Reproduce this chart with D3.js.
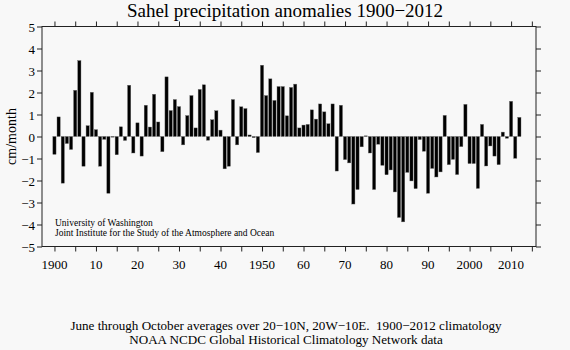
<!DOCTYPE html>
<html><head><meta charset="utf-8">
<script src="https://cdn.jsdelivr.net/npm/d3@7"></script>
<style>
html,body{margin:0;padding:0;background:#f8f8f8;}
svg{display:block;}
text{font-family:"Liberation Serif","Times New Roman",serif;fill:#000;white-space:pre;}
</style></head>
<body>
<svg id="c" width="570" height="350"></svg>
<script>
const years = d3.range(1900, 2013);
const values = [
 -0.81, 0.89,-2.12,-0.32,-0.59, 2.10, 3.45,-1.35, 0.49, 2.01,
  0.31,-1.35,-0.13,-2.58,-0.03,-0.83, 0.44,-0.18, 2.33,-0.75,
  0.62,-0.89, 1.42, 0.43, 1.92, 0.66,-0.69, 2.71, 1.18, 1.68,
  1.36,-0.38, 0.95, 1.86, 0.39, 2.14, 2.35,-0.17, 0.76, 1.17,
  0.29,-1.47,-1.35, 1.68,-0.38, 1.35, 1.27, 0.07,-0.05,-0.73,
  3.24, 1.86, 2.62, 1.64, 2.27, 2.27, 0.94, 2.23, 2.38, 0.39,
  0.52, 0.55, 1.21, 0.79, 1.48, 1.12, 0.58, 1.48,-1.57, 1.42,
 -1.05,-1.20,-3.07,-2.41,-0.47, 0.03,-0.75,-2.41,-0.35,-1.31,
 -1.74,-1.52,-2.52,-3.68,-3.88,-1.63,-2.02,-2.37,-0.14,-0.67,
 -2.58,-1.45,-1.84,-1.61, 0.96,-1.28,-1.04,-1.73,-0.46, 1.46,
 -1.23,-1.23,-2.36, 0.55,-1.34,-0.43,-0.89,-1.28, 0.20,-0.08,
  1.60,-0.99, 0.87
];
const xTicks = d3.range(1900, 2016, 5);
const xLabelYears = [1900,1910,1920,1930,1940,1950,1960,1970,1980,1990,2000,2010];
const xLabelText = ["1900","10","20","30","40","1950","60","70","80","90","2000","2010"];
const yTicks = d3.range(-5, 6, 1);
const title = "Sahel precipitation anomalies 1900\u22122012";
const yTitle = "cm/month";
const credit = ["University of Washington","Joint Institute for the Study of the Atmosphere and Ocean"];
const footer = ["June through October averages over 20\u221210N, 20W\u221210E.  1900\u22122012 climatology",
                "NOAA NCDC Global Historical Climatology Network data"];

const svg = d3.select("#c");
const L = 42, R = 536, T = 26.5, B = 246.5;
const x = d3.scaleLinear().domain([1897, 2016]).range([L, R]);
const y = d3.scaleLinear().domain([-5, 5]).range([B, T]);
const bw = 3.2;

svg.append("g").selectAll("rect").data(years).join("rect")
  .attr("x", (d) => x(d) - bw/2)
  .attr("width", bw)
  .attr("y", (d,i) => Math.min(y(values[i]), y(0)))
  .attr("height", (d,i) => Math.max(0.6, Math.abs(y(values[i]) - y(0))))
  .attr("fill", "#000")
  .attr("stroke", "#666").attr("stroke-width", 0.4);

const axStyle = g => { g.selectAll("path,line").attr("stroke","#222"); g.select(".domain").remove(); };
svg.append("g").attr("transform",`translate(0,${B})`)
  .call(d3.axisBottom(x).tickValues(xTicks).tickSize(5).tickFormat(""))
  .call(axStyle);
svg.append("g").attr("transform",`translate(0,${T})`)
  .call(d3.axisTop(x).tickValues(xTicks).tickSize(5).tickFormat(""))
  .call(axStyle);
svg.append("g").attr("transform",`translate(${L},0)`)
  .call(d3.axisLeft(y).tickValues(yTicks).tickSize(5).tickFormat(d3.format("d")))
  .call(axStyle)
  .call(g => g.selectAll("text").attr("font-size",13).attr("font-family","Liberation Serif").attr("fill","#000").attr("x",-7).attr("dy","0.35em"));
svg.append("g").attr("transform",`translate(${R},0)`)
  .call(d3.axisRight(y).tickValues(yTicks).tickSize(5).tickFormat(""))
  .call(axStyle);

svg.append("rect").attr("x",L).attr("y",T).attr("width",R-L).attr("height",B-T)
  .attr("fill","none").attr("stroke","#222").attr("stroke-width",1);

svg.append("g").selectAll("text").data(xLabelYears).join("text")
  .attr("x", d => x(d)).attr("y", 268.5)
  .attr("text-anchor","middle").attr("font-size",13)
  .text((d,i) => xLabelText[i]);

svg.append("text").attr("x",285).attr("y",17).attr("text-anchor","middle")
  .attr("font-size",19).text(title);

svg.append("text").attr("transform",`translate(16,${(T+B)/2}) rotate(-90)`)
  .attr("text-anchor","middle").attr("font-size",14).text(yTitle);

svg.append("g").selectAll("text").data(credit).join("text")
  .attr("x",55).attr("y",(d,i)=>226+i*10).attr("font-size",9.5).text(d=>d);

svg.append("g").selectAll("text").data(footer).join("text")
  .attr("x",286).attr("y",(d,i)=>330+i*14).attr("text-anchor","middle")
  .attr("font-size",13.1).text(d=>d);
</script>
</body></html>
